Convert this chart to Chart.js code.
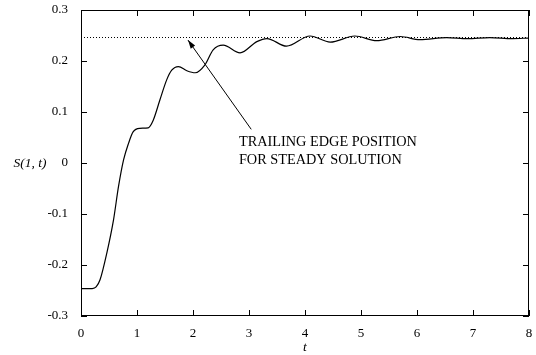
<!DOCTYPE html>
<html>
<head>
<meta charset="utf-8">
<script src="https://cdn.jsdelivr.net/npm/chart.js@4"></script>
<style>
  html, body { margin: 0; padding: 0; background: #fff; }
  #wrap { width: 536px; height: 355px; }
</style>
</head>
<body>
<div id="wrap"><canvas id="chart"></canvas></div>
<script>
const tValues = [0, 0.2, 0.27, 0.34, 0.46, 0.58, 0.67, 0.76, 0.85, 0.93, 1.05, 1.2, 1.29, 1.41, 1.53, 1.62, 1.74, 1.89, 2.04, 2.21, 2.36, 2.54, 2.84, 3.14, 3.32, 3.67, 4.09, 4.45, 4.89, 5.28, 5.7, 6.05, 6.53, 6.9, 7.3, 7.7, 8.0];
const sValues = [-0.2465, -0.2462, -0.243, -0.229, -0.177, -0.112, -0.046, 0.006, 0.039, 0.061, 0.068, 0.069, 0.084, 0.124, 0.163, 0.182, 0.189, 0.181, 0.177, 0.192, 0.222, 0.231, 0.216, 0.238, 0.244, 0.229, 0.249, 0.237, 0.249, 0.24, 0.248, 0.242, 0.246, 0.244, 0.246, 0.244, 0.245];
const xTicks = [0, 1, 2, 3, 4, 5, 6, 7, 8];
const yTicks = [-0.3, -0.2, -0.1, 0, 0.1, 0.2, 0.3];
const steadyValue = 0.2465;
const noteLines = ['TRAILING EDGE POSITION', 'FOR STEADY SOLUTION'];
const arrowFrom = { t: 3.04, s: 0.066 };
const arrowTo = { t: 1.91, s: 0.241 };
const noteAt = { t: 2.82, s: 0.040 };

const serif = '"Liberation Serif", "DejaVu Serif", serif';

// inward ticks, labels, dotted steady line and arrow note
const paperPlugin = {
  id: 'paper',
  afterDraw(chart) {
    const { ctx, chartArea: a, scales: { x, y } } = chart;
    ctx.save();
    ctx.strokeStyle = '#000';
    ctx.lineWidth = 1;
    ctx.strokeRect(a.left + 0.5, a.top + 0.5, a.right - a.left - 1, a.bottom - a.top - 1);

    ctx.beginPath();
    xTicks.forEach(v => {
      const px = Math.round(x.getPixelForValue(v)) + 0.5;
      ctx.moveTo(px, a.bottom); ctx.lineTo(px, a.bottom - 6);
      ctx.moveTo(px, a.top); ctx.lineTo(px, a.top + 6);
    });
    yTicks.forEach(v => {
      const py = Math.round(y.getPixelForValue(v)) + 0.5;
      ctx.moveTo(a.left, py); ctx.lineTo(a.left + 6, py);
      ctx.moveTo(a.right, py); ctx.lineTo(a.right - 6, py);
    });
    ctx.stroke();

    ctx.fillStyle = '#000';
    ctx.font = '13px ' + serif;
    ctx.textAlign = 'center';
    ctx.textBaseline = 'middle';
    xTicks.forEach(v => ctx.fillText(String(v), x.getPixelForValue(v), a.bottom + 18));
    ctx.textAlign = 'right';
    yTicks.forEach(v => ctx.fillText(String(v), a.left - 13, y.getPixelForValue(v)));

    ctx.font = 'italic 13.5px ' + serif;
    ctx.textAlign = 'center';
    ctx.fillText('t', (a.left + a.right) / 2, a.bottom + 31);
    ctx.fillText('S(1, t)', 30, y.getPixelForValue(0));

    // dotted steady line
    ctx.setLineDash([1, 2]);
    ctx.beginPath();
    const sy = Math.round(y.getPixelForValue(steadyValue)) + 0.5;
    ctx.moveTo(x.getPixelForValue(0), sy);
    ctx.lineTo(x.getPixelForValue(8), sy);
    ctx.stroke();
    ctx.setLineDash([]);

    // arrow
    const x1 = x.getPixelForValue(arrowFrom.t), y1 = y.getPixelForValue(arrowFrom.s);
    const x2 = x.getPixelForValue(arrowTo.t), y2 = y.getPixelForValue(arrowTo.s);
    ctx.beginPath();
    ctx.moveTo(x1, y1); ctx.lineTo(x2, y2);
    ctx.stroke();
    const ang = Math.atan2(y2 - y1, x2 - x1);
    ctx.beginPath();
    ctx.moveTo(x2, y2);
    ctx.lineTo(x2 - 9 * Math.cos(ang - 0.3), y2 - 9 * Math.sin(ang - 0.3));
    ctx.lineTo(x2 - 9 * Math.cos(ang + 0.3), y2 - 9 * Math.sin(ang + 0.3));
    ctx.closePath();
    ctx.fill();

    ctx.font = '14.3px ' + serif;
    ctx.textAlign = 'left';
    const nx = x.getPixelForValue(noteAt.t), ny = y.getPixelForValue(noteAt.s);
    noteLines.forEach((line, i) => ctx.fillText(line, nx, ny + i * 17.5));
    ctx.restore();
  }
};

new Chart(document.getElementById('chart'), {
  type: 'line',
  data: {
    datasets: [{
      data: tValues.map((t, i) => ({ x: t, y: sValues[i] })),
      borderColor: '#000',
      borderWidth: 1.2,
      pointRadius: 0,
      fill: false,
      cubicInterpolationMode: 'monotone',
    }],
  },
  options: {
    responsive: true,
    maintainAspectRatio: false,
    animation: false,
    layout: { padding: { top: 10, right: 7, left: 0, bottom: 0 } },
    plugins: { legend: { display: false }, tooltip: { enabled: false } },
    scales: {
      x: {
        type: 'linear', min: 0, max: 8,
        grid: { display: false, drawTicks: false },
        border: { display: false },
        ticks: { display: false },
        afterFit: scale => { scale.height = 39; },
      },
      y: {
        min: -0.3, max: 0.3,
        grid: { display: false, drawTicks: false },
        border: { display: false },
        ticks: { display: false },
        afterFit: scale => { scale.width = 81; },
      },
    },
  },
  plugins: [paperPlugin],
});
</script>
</body>
</html>
